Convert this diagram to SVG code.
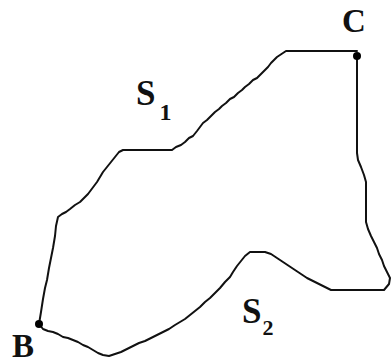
<svg xmlns="http://www.w3.org/2000/svg" width="392" height="364" viewBox="0 0 392 364">
<style>
.curve{fill:none;stroke:#111;stroke-width:2;stroke-linejoin:round;stroke-linecap:round}
.lbl{font-family:"Liberation Serif","Times New Roman",serif;font-weight:bold;fill:#111}
.big{font-size:33px}
.sub{font-size:24px}
.dot{fill:#000}
</style>
<rect width="392" height="364" fill="#fff"/>
<g id="connectors">
<path id="S1-path" class="curve" d="M39,324 L41,312 L43,299 L45,288 L47,280 L49,268 L51,258 L53,248 L55,236 L56,226 L58,217 L62,214 L66,212 L70,209 L75,205 L80,202 L84,198 L88,194 L91,190 L94,186 L97,182 L100,177 L103,172 L107,167 L111,162 L115,157 L119,152 L123,150 L172,150 L176,147 L181,145 L185,142 L189,138 L193,136 L197,131 L200,127 L203,123 L207,120 L211,116 L215,112 L219,109 L222,106 L226,103 L230,99 L234,97 L238,93 L242,90 L245,87 L249,84 L253,80 L257,78 L260,75 L264,71 L268,67 L271,63 L274,60 L277,57 L280,55 L283,53 L286,51 L357,51"/>
<path id="S2-path" class="curve" d="M39,324 L43,329 L48,331 L53,332 L58,334 L63,337 L68,338 L73,340 L78,342 L83,345 L88,347 L93,350 L98,353 L103,355 L109,356 L115,354 L121,352 L127,349 L133,346 L139,343 L145,341 L151,338 L157,335 L163,332 L169,329 L175,325 L180,322 L185,319 L190,315 L195,311 L200,307 L205,302 L210,298 L215,293 L220,288 L225,282 L230,277 L233,272 L237,266 L241,261 L245,256 L250,252 L265,252 L271,254 L277,258 L283,262 L289,266 L295,270 L301,274 L307,278 L313,281 L319,284 L325,287 L331,290 L384,290 L389,284 L390,278 L387,272 L384,266 L382,260 L379,254 L377,248 L374,242 L371,236 L368,229 L366,222 L366,182 L364,175 L361,167 L358,160 L357,153 L357,56"/>
</g>
<g id="node-C">
<circle class="dot" cx="357" cy="56" r="4"/>
<text class="lbl big" x="342" y="32">C</text>
</g>
<g id="node-B">
<circle class="dot" cx="39" cy="324" r="4"/>
<text class="lbl big" x="12" y="357">B</text>
</g>
<g id="label-S1">
<text class="lbl" x="136" y="105"><tspan style="font-size:35px">S</tspan><tspan class="sub" dx="4" dy="15">1</tspan></text>
</g>
<g id="label-S2">
<text class="lbl" x="242" y="323"><tspan style="font-size:35px">S</tspan><tspan class="sub" dx="1" dy="12" style="font-size:22px">2</tspan></text>
</g>
</svg>
